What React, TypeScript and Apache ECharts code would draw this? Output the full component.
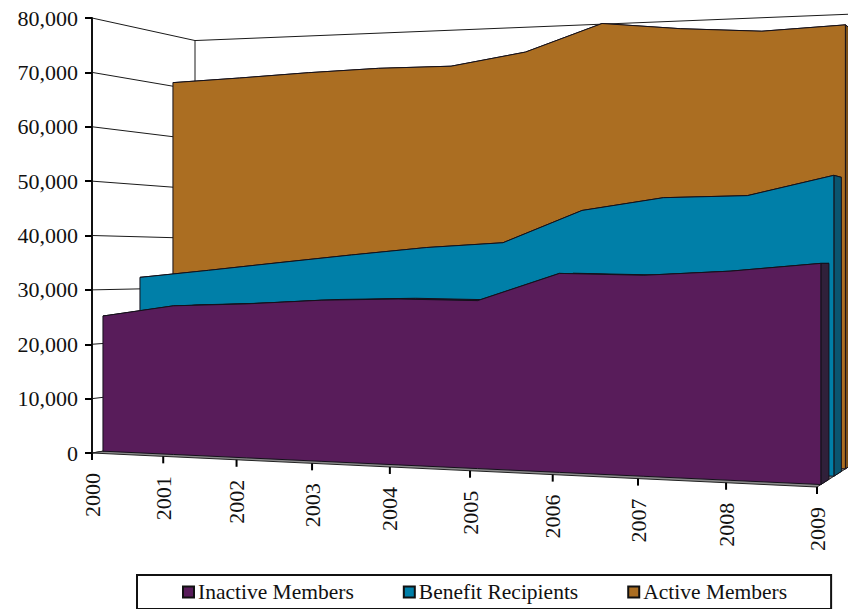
import React, { useEffect, useRef } from "react";
import * as echarts from "echarts";

const years = ["2000", "2001", "2002", "2003", "2004", "2005", "2006", "2007", "2008", "2009"];
const yTicks = [0, 10000, 20000, 30000, 40000, 50000, 60000, 70000, 80000];
const inactiveMembers = [25100, 27200, 27750, 28600, 29000, 28900, 33700, 33500, 34300, 35650];
const benefitRecipients = [32200, 33660, 35200, 36700, 38100, 39000, 44700, 46850, 47100, 50400];
const activeMembers = [70700, 71200, 71800, 72200, 72150, 74300, 79000, 77500, 76500, 77050];

const FONT = '"Liberation Serif", "Times New Roman", serif';
const GRID = { left: 92, top: 18, width: 725, height: 435 };

// Floor corners in pixels: front-left, front-right, back-right, back-left.
const FLOOR = [[92, 453], [817, 487], [853, 464], [195, 436]];

function makeHomography() {
  const [[x0, y0], [x1, y1], [x2, y2], [x3, y3]] = FLOOR;
  const dx1 = x1 - x2, dx2 = x3 - x2, sx = x0 - x1 + x2 - x3;
  const dy1 = y1 - y2, dy2 = y3 - y2, sy = y0 - y1 + y2 - y3;
  const det = dx1 * dy2 - dx2 * dy1;
  const g = (sx * dy2 - dx2 * sy) / det;
  const h = (dx1 * sy - sx * dy1) / det;
  return {
    a: x1 - x0 + g * x1, b: x3 - x0 + h * x3, c: x0,
    d: y1 - y0 + g * y1, e: y3 - y0 + h * y3, f: y0, g, h,
  };
}
const H = makeHomography();
// Perspective shrink of the vertical scale across the width and the depth of the box.
const HEIGHT_G = -0.1332;
const HEIGHT_H = 0.1;

// Takes a point on the flat front plane, as given by the axes, to the box at a depth of 0..1.
function project(flat: number[], depth: number): number[] {
  const u = (flat[0] - GRID.left) / GRID.width;
  const lift = GRID.top + GRID.height - flat[1];
  const w = 1 + H.g * u + H.h * depth;
  const x = (H.a * u + H.b * depth + H.c) / w;
  const base = (H.d * u + H.e * depth + H.f) / w;
  return [x, base - lift / (1 + HEIGHT_G * u + HEIGHT_H * depth)];
}

function areaSeries(name: string, values: number[], color: string, side: string, front: number, back: number) {
  return {
    name,
    type: "custom",
    coordinateSystem: "cartesian2d",
    itemStyle: { color },
    data: values.map((v, i) => [i, v]),
    encode: { x: 0, y: 1 },
    z: 5,
    renderItem(params: any, api: any) {
      if (params.dataIndex !== 0) return null;
      const tops = values.map((v, i) => api.coord([i, v]));
      const bases = values.map((_, i) => api.coord([i, 0]));
      const last = values.length - 1;
      const outline = "#14101a";
      const frontPts = [
        ...tops.map((p) => project(p, front)),
        ...bases.slice().reverse().map((p) => project(p, front)),
      ];
      const sidePts = [
        project(tops[last], front), project(tops[last], back),
        project(bases[last], back), project(bases[last], front),
      ];
      const topPts = [
        ...tops.map((p) => project(p, front)),
        ...tops.slice().reverse().map((p) => project(p, back)),
      ];
      return {
        type: "group",
        children: [
          { type: "polygon", shape: { points: topPts }, style: { fill: side, stroke: outline, lineWidth: 1 } },
          { type: "polygon", shape: { points: sidePts }, style: { fill: side, stroke: outline, lineWidth: 1 } },
          { type: "polygon", shape: { points: frontPts }, style: { fill: color, stroke: outline, lineWidth: 1 } },
        ],
      };
    },
  };
}

// Side wall, back wall and floor of the box.
const wallSeries = {
  type: "custom",
  coordinateSystem: "cartesian2d",
  data: yTicks.map((v) => [0, v]),
  encode: { x: 0, y: 1 },
  z: 1,
  silent: true,
  renderItem(params: any, api: any) {
    const v = yTicks[params.dataIndex];
    const last = years.length - 1;
    const a = project(api.coord([0, v]), 0);
    const b = project(api.coord([0, v]), 1);
    const c = project(api.coord([last, v]), 1);
    const children: any[] = [
      { type: "polyline", shape: { points: [a, b, c] }, style: { fill: "none", stroke: "#1a1a1a", lineWidth: 1 } },
    ];
    if (params.dataIndex === 0) {
      const top = project(api.coord([0, yTicks[yTicks.length - 1]]), 1);
      const fl = project(api.coord([0, 0]), 0);
      const fr = project(api.coord([last, 0]), 0);
      const br = project(api.coord([last, 0]), 1);
      const bl = project(api.coord([0, 0]), 1);
      children.push({ type: "line", shape: { x1: bl[0], y1: bl[1], x2: top[0], y2: top[1] }, style: { stroke: "#1a1a1a", lineWidth: 1 } });
      children.push({ type: "polygon", shape: { points: [fl, fr, br, bl] }, style: { fill: "#8a8a8a", stroke: "#222", lineWidth: 1 } });
    }
    return { type: "group", children };
  },
};

// Year ticks and labels running along the slanted front edge of the floor.
const yearSeries = {
  type: "custom",
  coordinateSystem: "cartesian2d",
  data: years.map((_, i) => [i, 0]),
  encode: { x: 0, y: 1 },
  z: 6,
  silent: true,
  renderItem(params: any, api: any) {
    const p = project(api.coord([params.dataIndex, 0]), 0);
    return {
      type: "group",
      children: [
        { type: "line", shape: { x1: p[0], y1: p[1], x2: p[0], y2: p[1] + 7 }, style: { stroke: "#000", lineWidth: 2 } },
        {
          type: "text",
          x: p[0],
          y: p[1] + 20,
          rotation: Math.PI / 2,
          style: { text: years[params.dataIndex], font: `22px ${FONT}`, fill: "#111", align: "right", verticalAlign: "middle" },
        },
      ],
    };
  },
};

export default function App() {
  const ref = useRef<HTMLDivElement>(null);
  useEffect(() => {
    const chart = echarts.init(ref.current!, null, { renderer: "svg" });
    chart.setOption({
      animation: false,
      backgroundColor: "#fff",
      grid: GRID,
      xAxis: { type: "category", data: years, boundaryGap: false, show: false },
      yAxis: {
        type: "value",
        min: 0,
        max: 80000,
        interval: 10000,
        splitLine: { show: false },
        axisLine: { show: true, lineStyle: { color: "#111", width: 2 } },
        axisTick: { show: true, length: 7, lineStyle: { color: "#000", width: 2 } },
        axisLabel: { color: "#111", fontFamily: FONT, fontSize: 22, margin: 14, formatter: (v: number) => v.toLocaleString("en-US") },
        z: 8,
      },
      legend: {
        left: 137,
        top: 575,
        padding: [6, 44, 6, 45],
        itemGap: 49,
        itemWidth: 11,
        itemHeight: 11,
        borderColor: "#111",
        borderWidth: 2,
        textStyle: { fontFamily: FONT, fontSize: 21.5, color: "#111", padding: [0, 0, 0, -1] },
        itemStyle: { borderColor: "#111", borderWidth: 2 },
        data: ["Inactive Members", "Benefit Recipients", "Active Members"].map((name) => ({ name, icon: "rect" })),
      },
      series: [
        wallSeries,
        areaSeries("Active Members", activeMembers, "#AB6E22", "#7a4f18", 0.768, 0.977),
        areaSeries("Benefit Recipients", benefitRecipients, "#007FA8", "#0a5570", 0.44, 0.65),
        areaSeries("Inactive Members", inactiveMembers, "#581C5A", "#30203a", 0.097, 0.306),
        yearSeries,
      ],
    });
    return () => chart.dispose();
  }, []);
  return <div ref={ref} style={{ position: "absolute", left: 0, top: 0, width: 848, height: 609 }} />;
}
